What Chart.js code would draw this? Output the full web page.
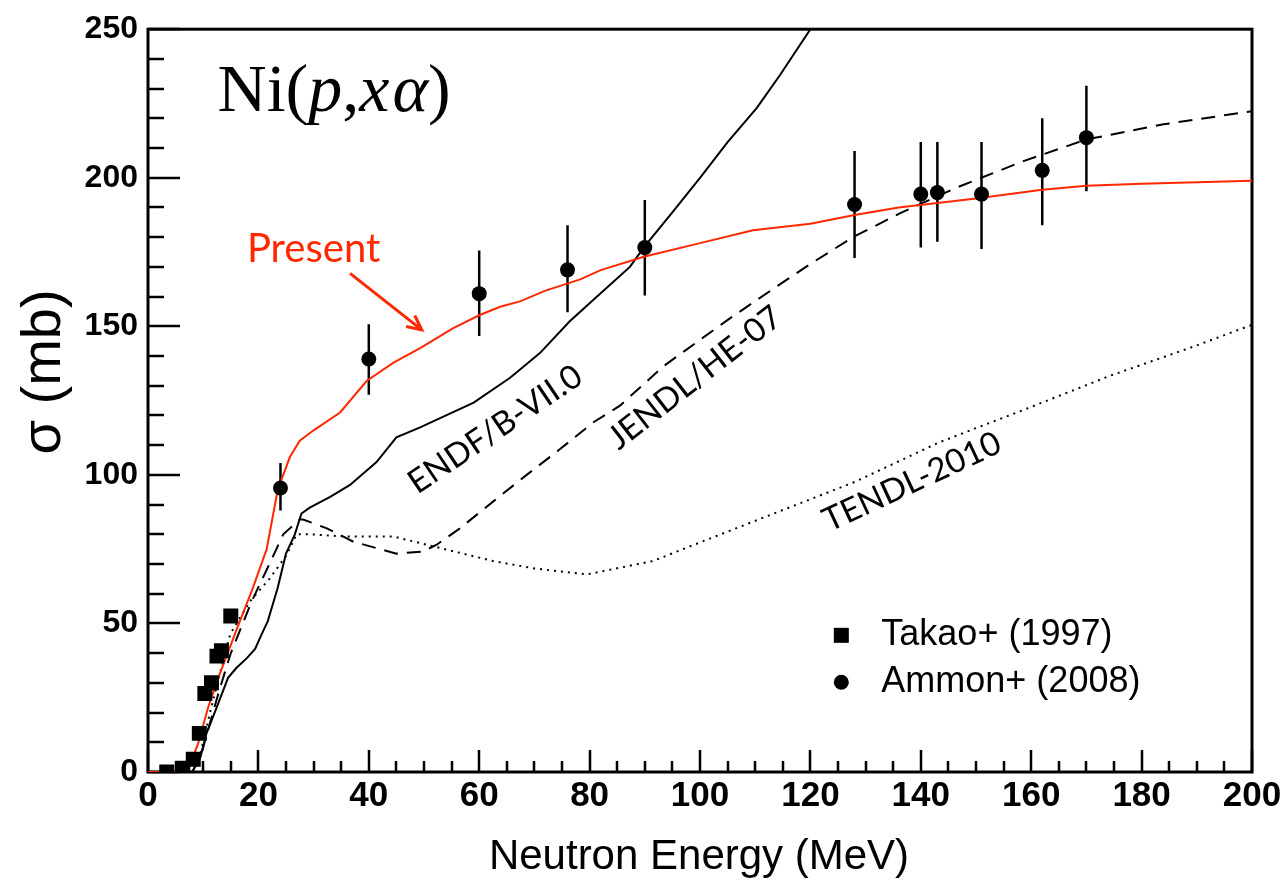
<!DOCTYPE html>
<html>
<head>
<meta charset="utf-8">
<script src="https://cdn.jsdelivr.net/npm/chart.js@4.4.0/dist/chart.umd.min.js"></script>
<style>
html, body { margin: 0; padding: 0; background: #fff; }
</style>
</head>
<body>
<canvas id="c" width="1288" height="880"></canvas>
<script>
// Calculs (MeV, mb)
const ePresent = [0, 5, 6.5, 7.6, 9.1, 10.9, 13, 16.7, 19, 21.5, 23.5, 25.7, 27.5, 30, 34.8, 39.6, 44.4, 49.3, 55.3, 60.1, 63.8, 67.4, 72, 78.3, 82, 90, 100, 109.6, 120, 128, 136, 150, 162, 170, 180, 200];
const sPresent = [0, 0, 0.5, 2.3, 9.7, 21.8, 33, 51, 62, 75, 95, 106, 111.5, 115, 121, 131.6, 137.7, 142.7, 149.4, 153.8, 156.6, 158.4, 162, 165.8, 168.9, 173.5, 178, 182.3, 184.5, 187.5, 190, 193, 196, 197.3, 198, 199];

const eEndf = [8, 9.5, 10.6, 12.5, 14.5, 16, 18, 19.4, 20.5, 21.7, 23.5, 25, 26.6, 27.8, 29.3, 33, 36.6, 41.4, 45, 49.3, 54, 59, 65.6, 71, 76.4, 81.9, 87.3, 90, 95.1, 100, 105, 110.3, 114.5, 120, 125];
const sEndf = [0, 5, 13, 22, 31.7, 35, 38.5, 41.4, 46, 50.8, 62, 73.5, 80, 87, 89, 92.6, 96.6, 104.3, 112.6, 116, 120, 124.3, 132.7, 141, 151.7, 161, 170, 177, 188.6, 200, 212, 223.5, 234.6, 250, 265];

const eJendl = [8, 9.5, 11, 13, 15, 18.8, 22, 24.5, 27.5, 28.1, 32.4, 37.2, 45, 49.8, 52.3, 56.5, 62.5, 68.6, 74.6, 80.6, 85.5, 93.4, 104.9, 113.4, 120, 127.7, 136.2, 146.5, 158.6, 170, 184, 200];
const sJendl = [0, 5, 15, 28, 40, 57.5, 70, 80, 85, 85, 82, 77.5, 73.5, 74.2, 76.5, 82, 91, 100, 108.6, 117.6, 123.3, 136.6, 152, 162.8, 171, 180, 188, 196.7, 205.6, 212.9, 218, 222.4];

const eTendl = [8, 9.5, 11.2, 13, 14.9, 18.5, 22, 25.1, 26.9, 29.3, 35.3, 44.4, 50.5, 62.5, 70, 79.5, 91.5, 97.3, 112.7, 128, 143.4, 158.8, 174.2, 189.6, 200];
const sTendl = [0, 6, 19.7, 33, 46.4, 57.5, 65, 73, 80, 80, 79.3, 79.3, 76.5, 71, 68.5, 66.5, 71, 75.3, 86.5, 97.6, 111, 122, 133.3, 143.3, 150.5];

// Mesures
const eTakao = [3.4, 6.3, 8.2, 9.3, 10.3, 11.5, 12.5, 13.3, 15];
const sTakao = [0, 1.3, 4.3, 13, 26.4, 30, 39, 40.8, 52.5];

const eAmmon = [24, 40, 60, 76, 90, 128, 140, 143, 151, 162, 170];
const sAmmon = [95.6, 139, 161, 169, 176.5, 191, 194.5, 195, 194.5, 202.5, 213.5];
const loAmmon = [88, 127, 146.7, 154.7, 160.4, 173, 176.5, 178.5, 176, 184, 195.5];
const hiAmmon = [104, 150.7, 175.5, 184, 192.5, 209, 212, 212, 212, 220, 231];

const xTicks = [0, 20, 40, 60, 80, 100, 120, 140, 160, 180, 200];
const yTicks = [0, 50, 100, 150, 200, 250];

const RED = 'rgb(255, 40, 0)';
const pts = (xs, ys) => xs.map((x, i) => ({ x: x, y: ys[i] }));

function lineSet(label, xs, ys, color, dash) {
    return {
        label: label,
        data: pts(xs, ys),
        showLine: true,
        borderColor: color,
        borderWidth: 2,
        borderDash: dash,
        pointRadius: 0,
        fill: false,
        tension: 0
    };
}

// cadre, graduations internes, barres d'erreur
const decor = {
    id: 'decor',
    beforeDatasetsDraw(chart) {
        const { ctx, chartArea: a, scales: { x, y } } = chart;
        ctx.save();
        ctx.strokeStyle = '#000';
        ctx.lineWidth = 2.5;
        ctx.beginPath();
        for (let v = 0; v <= 250; v += 10) {
            const py = Math.round(y.getPixelForValue(v));
            const len = v % 50 === 0 ? 32 : 16;
            ctx.moveTo(a.left, py);
            ctx.lineTo(a.left + len, py);
        }
        for (let v = 0; v <= 200; v += 5) {
            const px = Math.round(x.getPixelForValue(v));
            const len = v % 20 === 0 ? 22 : 11;
            ctx.moveTo(px, a.bottom);
            ctx.lineTo(px, a.bottom - len);
        }
        ctx.stroke();
        ctx.lineWidth = 3;
        ctx.strokeRect(a.left, a.top, a.right - a.left, a.bottom - a.top);

        // barres d'erreur Ammon
        ctx.lineWidth = 2.5;
        ctx.beginPath();
        eAmmon.forEach((e, i) => {
            const px = x.getPixelForValue(e);
            ctx.moveTo(px, y.getPixelForValue(loAmmon[i]));
            ctx.lineTo(px, y.getPixelForValue(hiAmmon[i]));
        });
        ctx.stroke();
        ctx.restore();
    },
    afterDatasetsDraw(chart) {
        const { ctx, scales: { x, y } } = chart;
        ctx.save();

        // titre Ni(p,xα)
        let tx = x.getPixelForValue(12.6);
        const ty = y.getPixelForValue(222.5);
        ctx.fillStyle = '#000';
        ctx.textBaseline = 'alphabetic';
        ctx.textAlign = 'left';
        const parts = [['Ni(', false], ['p', true], [',', false], ['x', true], ['\u03B1', true], [')', false]];
        parts.forEach(([s, it]) => {
            ctx.font = (it ? 'italic ' : '') + '68px "Liberation Serif"';
            ctx.fillText(s, tx, ty);
            tx += ctx.measureText(s).width + (s === 'x' ? 3 : 0);
        });

        // étiquettes des courbes
        const tag = (txt, ex, sy, deg, color, size) => {
            ctx.save();
            ctx.translate(x.getPixelForValue(ex), y.getPixelForValue(sy));
            ctx.rotate(deg * Math.PI / 180);
            ctx.fillStyle = color;
            ctx.font = size + 'px Lato';
            ctx.textAlign = 'center';
            ctx.textBaseline = 'middle';
            ctx.fillText(txt, 0, 0);
            ctx.restore();
        };
        tag('Present', 30, 176, 0, RED, 40);
        tag('ENDF/B-VII.0', 62.9, 115.3, -34, '#000', 33);
        tag('JENDL/HE-07', 99.1, 132.7, -38, '#000', 33);
        tag('TENDL-2010', 138.4, 97.6, -25, '#000', 33);

        // flèche
        const x0 = x.getPixelForValue(36.6), y0 = y.getPixelForValue(167.8);
        const x1 = x.getPixelForValue(49.6), y1 = y.getPixelForValue(148.8);
        const ang = Math.atan2(y1 - y0, x1 - x0);
        ctx.strokeStyle = RED;
        ctx.beginPath();
        ctx.moveTo(x0, y0);
        ctx.lineTo(x1, y1);
        ctx.moveTo(x1 - 16 * Math.cos(ang - 0.45), y1 - 16 * Math.sin(ang - 0.45));
        ctx.lineTo(x1, y1);
        ctx.lineTo(x1 - 16 * Math.cos(ang + 0.45), y1 - 16 * Math.sin(ang + 0.45));
        ctx.lineWidth = 3;
        ctx.stroke();

        // légende
        const lx = x.getPixelForValue(125.6);
        const ly1 = y.getPixelForValue(46), ly2 = y.getPixelForValue(30.2);
        ctx.fillStyle = '#000';
        ctx.fillRect(lx - 7.5, ly1 - 7.5, 15, 15);
        ctx.beginPath();
        ctx.arc(lx, ly2, 7.5, 0, 2 * Math.PI);
        ctx.fill();
        ctx.font = '36px "Liberation Sans"';
        ctx.textAlign = 'left';
        ctx.textBaseline = 'middle';
        ctx.fillText('Takao+ (1997)', lx + 40, ly1);
        ctx.fillText('Ammon+ (2008)', lx + 40, ly2);

        // titres des axes
        ctx.font = '42px "Liberation Sans"';
        ctx.textAlign = 'center';
        ctx.fillText('Neutron Energy (MeV)', 699, 857);
        ctx.save();
        ctx.translate(45, 372);
        ctx.rotate(-Math.PI / 2);
        ctx.font = '56px "Liberation Sans"';
        ctx.fillText('\u03C3 (mb)', 0, 0);
        ctx.restore();

        ctx.restore();
    }
};

new Chart(document.getElementById('c'), {
    type: 'scatter',
    data: {
        datasets: [
            {
                label: 'Ammon+ (2008)',
                data: pts(eAmmon, sAmmon),
                pointStyle: 'circle',
                pointRadius: 7.5,
                backgroundColor: '#000',
                borderWidth: 0
            },
            {
                label: 'Takao+ (1997)',
                data: pts(eTakao, sTakao),
                pointStyle: 'rect',
                pointRadius: 10.6,
                backgroundColor: '#000',
                borderWidth: 0
            },
            lineSet('Present', ePresent, sPresent, RED, []),
            lineSet('ENDF/B-VII.0', eEndf, sEndf, '#000', []),
            lineSet('JENDL/HE-07', eJendl, sJendl, '#000', [14, 9]),
            lineSet('TENDL-2010', eTendl, sTendl, '#000', [2, 5])
        ]
    },
    options: {
        responsive: false,
        animation: false,
        layout: { padding: { top: 23, right: 36, left: 0, bottom: 0 } },
        plugins: {
            legend: { display: false },
            tooltip: { enabled: false }
        },
        scales: {
            x: {
                type: 'linear',
                min: 0,
                max: 200,
                afterFit: s => { s.height = 108; },
                afterBuildTicks: s => { s.ticks = xTicks.map(v => ({ value: v })); },
                grid: { display: false, drawTicks: false },
                border: { display: false },
                ticks: {
                    color: '#000',
                    padding: 3,
                    maxRotation: 0,
                    font: { family: '"Liberation Sans"', size: 35, weight: 'bold' }
                }
            },
            y: {
                type: 'linear',
                min: 0,
                max: 250,
                afterFit: s => { s.width = 148; },
                afterBuildTicks: s => { s.ticks = yTicks.map(v => ({ value: v })); },
                grid: { display: false, drawTicks: false },
                border: { display: false },
                ticks: {
                    color: '#000',
                    padding: 10,
                    font: { family: '"Liberation Sans"', size: 32, weight: 'bold' }
                }
            }
        }
    },
    plugins: [decor]
});
</script>
</body>
</html>
